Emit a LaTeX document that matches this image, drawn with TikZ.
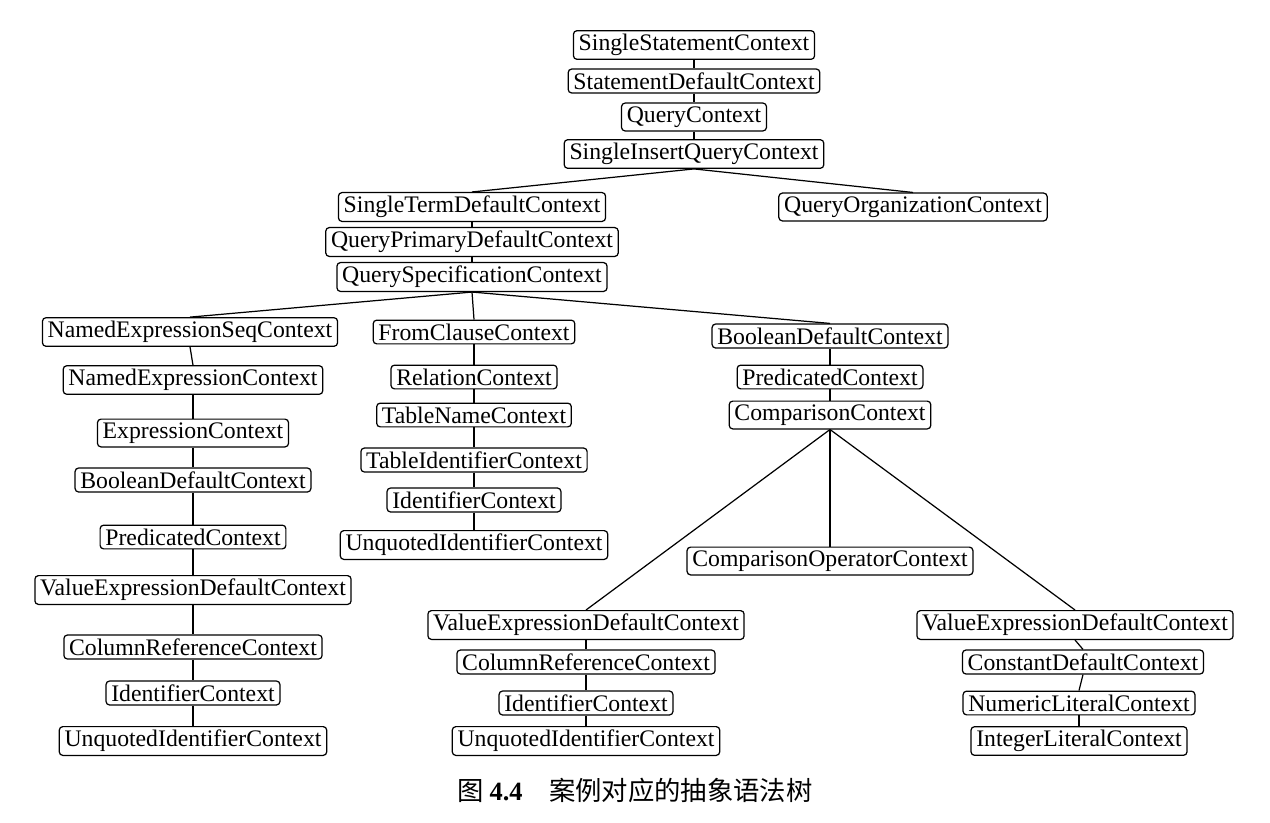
\documentclass[tikz,border=0pt]{standalone}
\usepackage{fontspec}
\setmainfont{Liberation Serif}
\newfontfamily\cjk{Noto Sans CJK SC}
\usetikzlibrary{positioning}

\begin{document}
\begin{tikzpicture}[x=0.02cm, y=-0.02cm,
    ctx/.style={draw, rounded corners=2pt, inner xsep=3pt, inner ysep=2pt,
      font=\fontsize{13.5}{15}\selectfont, line width=0.7pt},
    edge/.style={line width=0.7pt}]
   \useasboundingbox (0,0) rectangle (1270,822);

   % top chain
   \node[ctx] (ss) at (694,45) {SingleStatementContext};
   \node[ctx] (sd) at (694,81) {StatementDefaultContext};
   \node[ctx] (q) at (694,117) {QueryContext};
   \node[ctx] (siq) at (694,154) {SingleInsertQueryContext};

   \node[ctx] (st) at (472,207) {SingleTermDefaultContext};
   \node[ctx] (qo) at (913,207) {QueryOrganizationContext};
   \node[ctx] (qp) at (472,242) {QueryPrimaryDefaultContext};
   \node[ctx] (qs) at (472,277) {QuerySpecificationContext};

   % select list
   \node[ctx] (nes) at (190,332) {NamedExpressionSeqContext};
   \node[ctx] (ne) at (193,380) {NamedExpressionContext};
   \node[ctx] (ex) at (193,433) {ExpressionContext};
   \node[ctx] (bd) at (193,480) {BooleanDefaultContext};
   \node[ctx] (pr) at (193,537) {PredicatedContext};
   \node[ctx] (ve) at (193,590) {ValueExpressionDefaultContext};
   \node[ctx] (cr) at (193,647) {ColumnReferenceContext};
   \node[ctx] (id) at (193,693) {IdentifierContext};
   \node[ctx] (ui) at (193,741) {UnquotedIdentifierContext};

   % from clause
   \node[ctx] (fc) at (474,332) {FromClauseContext};
   \node[ctx] (rel) at (474,377) {RelationContext};
   \node[ctx] (tn) at (474,415) {TableNameContext};
   \node[ctx] (ti) at (474,460) {TableIdentifierContext};
   \node[ctx] (fid) at (474,500) {IdentifierContext};
   \node[ctx] (fui) at (474,545) {UnquotedIdentifierContext};

   % where clause
   \node[ctx] (wbd) at (830,336) {BooleanDefaultContext};
   \node[ctx] (wpr) at (830,377) {PredicatedContext};
   \node[ctx] (cmp) at (830,415) {ComparisonContext};
   \node[ctx] (op) at (830,561) {ComparisonOperatorContext};

   \node[ctx] (lve) at (586,625) {ValueExpressionDefaultContext};
   \node[ctx] (lcr) at (586,662) {ColumnReferenceContext};
   \node[ctx] (lid) at (586,703) {IdentifierContext};
   \node[ctx] (lui) at (586,741) {UnquotedIdentifierContext};

   \node[ctx] (rve) at (1075,625) {ValueExpressionDefaultContext};
   \node[ctx] (rcd) at (1083,662) {ConstantDefaultContext};
   \node[ctx] (rnl) at (1079,703) {NumericLiteralContext};
   \node[ctx] (ril) at (1079,741) {IntegerLiteralContext};

   % edges
   \foreach \p/\c in {ss/sd, sd/q, q/siq, siq/st, siq/qo, st/qp, qp/qs,
       qs/nes, qs/fc, qs/wbd,
       nes/ne, ne/ex, ex/bd, bd/pr, pr/ve, ve/cr, cr/id, id/ui,
       fc/rel, rel/tn, tn/ti, ti/fid, fid/fui,
       wbd/wpr, wpr/cmp, cmp/op, cmp/lve, cmp/rve,
       lve/lcr, lcr/lid, lid/lui, rve/rcd, rcd/rnl, rnl/ril}
     \draw[edge] (\p.south) -- (\c.north);

   \node[font=\cjk\fontsize{15}{17}\selectfont] (cap) at (635,790)
     {图 \textbf{\rmfamily 4.4}\quad 案例对应的抽象语法树};
\end{tikzpicture}
\end{document}
